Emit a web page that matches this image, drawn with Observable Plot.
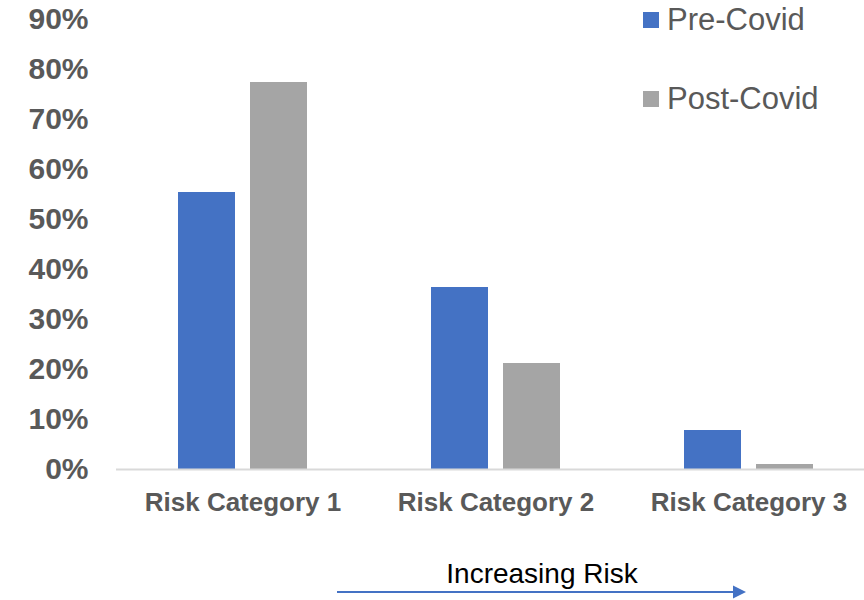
<!DOCTYPE html>
<html>
<head>
<meta charset="utf-8">
<script src="https://cdn.jsdelivr.net/npm/d3@7"></script>
<script src="https://cdn.jsdelivr.net/npm/@observablehq/plot@0.6"></script>
<style>
  html, body { margin: 0; padding: 0; background: #fff; overflow: hidden; }
  #wrap { position: relative; width: 864px; height: 600px; font-family: "Liberation Sans", Arial, sans-serif; }
  #chart { position: absolute; left: 0; top: 0; }
  .leg { position: absolute; left: 643px; height: 40px; display: flex; align-items: center; gap: 8px; font-size: 31px; color: #595959; }
  .sw { width: 16px; height: 16px; }
  #cap { position: absolute; left: 0; top: 0; }
</style>
</head>
<body>
<div id="wrap">
  <div id="chart"></div>
  <div id="legend"></div>
  <svg id="cap" width="864" height="600"></svg>
</div>
<script>
const categories = ["Risk Category 1", "Risk Category 2", "Risk Category 3"];
const seriesNames = ["Pre-Covid", "Post-Covid"];
const seriesColors = ["#4472C4", "#A5A5A5"];
const preCovid = [0.554, 0.364, 0.078];
const postCovid = [0.774, 0.212, 0.010];
const yTicks = [0, 0.1, 0.2, 0.3, 0.4, 0.5, 0.6, 0.7, 0.8, 0.9];
const captionText = "Increasing Risk";

const rows = [];
categories.forEach((c, i) => {
  rows.push({category: c, series: seriesNames[0], value: preCovid[i]});
  rows.push({category: c, series: seriesNames[1], value: postCovid[i]});
});

const font = '"Liberation Sans", Arial, sans-serif';

const chart = Plot.plot({
  width: 864,
  height: 600,
  marginLeft: 116,
  marginRight: 0,
  marginTop: 19,
  marginBottom: 131,
  style: {fontFamily: font, background: "transparent", overflow: "visible"},
  x: {domain: categories, range: [116, 875.5], padding: 0, label: null},
  y: {domain: [0, 0.9], label: null},
  color: {domain: seriesNames, range: seriesColors},
  marks: [
    Plot.barY(rows.filter(d => d.series === seriesNames[0]), {x: "category", y: "value", fill: "series", insetLeft: 62, insetRight: 134}),
    Plot.barY(rows.filter(d => d.series === seriesNames[1]), {x: "category", y: "value", fill: "series", insetLeft: 134, insetRight: 62}),
    Plot.ruleY([0], {stroke: "#d9d9d9", strokeWidth: 2}),
    Plot.axisY(yTicks, {tickSize: 0, tickPadding: 28, tickFormat: d3.format(".0%"), fontSize: 30, fontWeight: "bold", fill: "#595959", label: null}),
    Plot.axisX({tickSize: 0, tickPadding: 23, fontSize: 26, fontWeight: "bold", fill: "#595959", label: null})
  ]
});
document.getElementById("chart").appendChild(chart);

// Legend
const legend = document.getElementById("legend");
const legendTops = [0, 79];
seriesNames.forEach((name, i) => {
  const row = document.createElement("div");
  row.className = "leg";
  row.style.top = legendTops[i] + "px";
  const sw = document.createElement("div");
  sw.className = "sw";
  sw.style.background = seriesColors[i];
  const t = document.createElement("span");
  t.textContent = name;
  row.appendChild(sw);
  row.appendChild(t);
  legend.appendChild(row);
});

// Caption with arrow
const cap = d3.select("#cap");
cap.append("text")
  .attr("x", 542).attr("y", 583)
  .attr("text-anchor", "middle")
  .attr("font-family", font)
  .attr("font-size", 28)
  .attr("fill", "#000")
  .text(captionText);
cap.append("line")
  .attr("x1", 337).attr("x2", 734).attr("y1", 592).attr("y2", 592)
  .attr("stroke", "#4472C4").attr("stroke-width", 2);
cap.append("path")
  .attr("d", "M733,585.5 L746,592 L733,598.5 Z")
  .attr("fill", "#4472C4");
</script>
</body>
</html>
